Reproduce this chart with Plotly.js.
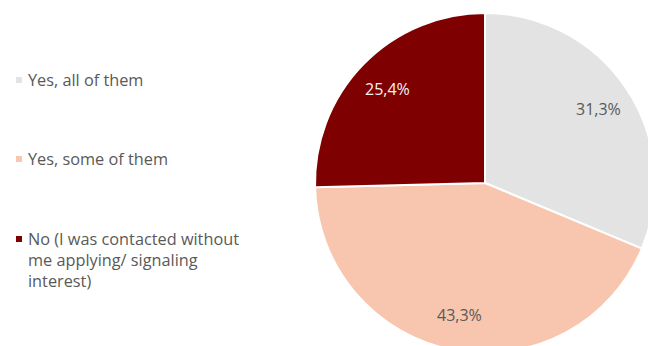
<!DOCTYPE html>
<html>
<head>
<meta charset="utf-8">
<script src="https://cdn.plot.ly/plotly-3.0.1.min.js"></script>
<style>
html,body{margin:0;padding:0;overflow:hidden;width:648px;height:346px;background:#fff;}
#chart{position:absolute;left:0;top:0;}
</style>
</head>
<body>
<div id="chart"></div>
<script>
const labels = ["Yes, all of them", "Yes, some of them", "No (I was contacted without me applying/ signaling interest)"];
const legendLines = [["Yes, all of them"], ["Yes, some of them"], ["No (I was contacted without", "me applying/ signaling", "interest)"]];
const values = [31.3, 43.3, 25.4];
const colors = ["#e3e3e3", "#f8c6ae", "#7f0000"];
const textColors = ["#595959", "#595959", "#f2f2f2"];

const W = 660, H = 366, MT = 13, MB = 13;
const PH = H - MT - MB;
const FONT = "'Open Sans', sans-serif";
const px2x = px => px / W;
const px2y = py => (H - MB - py) / PH;

const CX = 485, CY = 183, R = 170;

const legendY = [80, 159, 239];
const lineH = 21;
const annotations = [];
const shapes = [];
legendLines.forEach((lines, i) => {
  lines.forEach((ln, j) => {
    annotations.push({
      xref: 'paper', yref: 'paper', x: px2x(26), y: px2y(legendY[i] + j * lineH),
      xanchor: 'left', yanchor: 'middle', text: ln, showarrow: false,
      font: {family: FONT, size: 16.3, color: '#595959'}
    });
  });
  shapes.push({
    type: 'rect', xref: 'paper', yref: 'paper',
    x0: px2x(16), x1: px2x(22), y0: px2y(legendY[i] - 3), y1: px2y(legendY[i] + 3),
    fillcolor: colors[i], line: {width: 0}
  });
});

// data labels at 0.8 R along each slice bisector (clockwise from 12 o'clock)
const total = values.reduce((a, b) => a + b, 0);
let cum = 0;
values.forEach((v, i) => {
  const mid = (cum + v / 2) / total * 2 * Math.PI;
  cum += v;
  const lx = CX + 0.8 * R * Math.sin(mid);
  const ly = CY - 0.79 * R * Math.cos(mid);
  annotations.push({
    xref: 'paper', yref: 'paper', x: px2x(lx), y: px2y(ly),
    xanchor: 'center', yanchor: 'middle',
    text: (v / total * 100).toFixed(1).replace('.', ',') + '%',
    showarrow: false,
    font: {family: FONT, size: 16, color: textColors[i]}
  });
});

const trace = {
  type: 'pie',
  labels: labels,
  values: values,
  sort: false,
  direction: 'clockwise',
  rotation: 0,
  marker: {colors: colors, line: {color: '#ffffff', width: 2}},
  textinfo: 'none',
  textposition: 'none',
  hoverinfo: 'label+percent',
  showlegend: false,
  domain: {x: [(CX - R) / W, (CX + R) / W], y: [0, 1]}
};

Plotly.newPlot('chart', [trace], {
  width: W, height: H,
  margin: {l: 0, r: 0, t: MT, b: MB},
  separators: ', ',
  paper_bgcolor: '#ffffff',
  showlegend: false,
  annotations: annotations,
  shapes: shapes
}, {displayModeBar: false, staticPlot: true});
</script>
</body>
</html>
